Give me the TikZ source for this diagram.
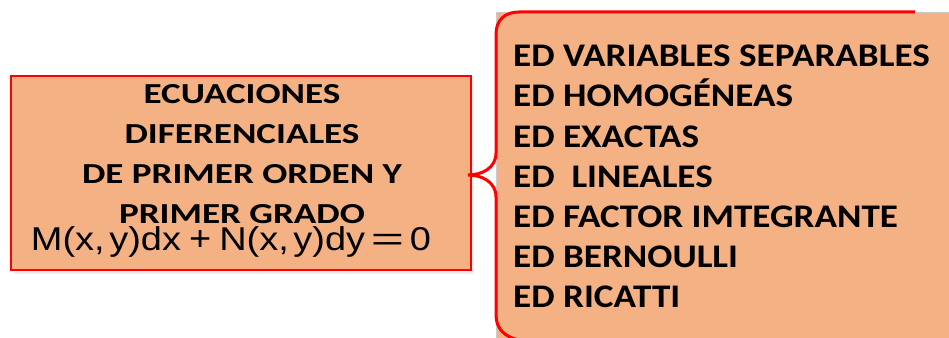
\documentclass[tikz,border=0pt]{standalone}
\usepackage{fontspec}
\setmainfont{Carlito}
\newfontfamily\eqfont{Liberation Sans}
\definecolor{salmon}{HTML}{F4B183}
\definecolor{bred}{HTML}{FF0000}
\newcommand{\eqplus}{\scalebox{1.0}[1.05]{+}}
\newcommand{\eqequal}{\scalebox{1.5}[1.0]{=}}
\begin{document}
\begin{tikzpicture}[x=1pt,y=-1pt,
  lefttxt/.style={anchor=base,inner sep=0pt,xscale=1.28,font=\bfseries\fontsize{29}{29}\selectfont},
  righttxt/.style={anchor=base west,inner sep=0pt,xscale=1.125,font=\bfseries\fontsize{33}{33}\selectfont},
  eqtxt/.style={anchor=base,inner sep=0pt,xscale=1.15,font=\eqfont\fontsize{33}{33}\selectfont},
  leftbox/.style={draw=bred,line width=2pt,fill=salmon,minimum width=460pt,minimum height=194pt,inner sep=0pt},
  bracepath/.style={draw=bred,line width=3pt,line cap=butt}
]
\useasboundingbox (0,0) rectangle (949,337);
\clip (0,0) rectangle (949,337);
\fill[white] (0,0) rectangle (949,337);
% shadow
\fill[gray!25,opacity=0.5] (14,79) rectangle (474,274);
% left box
\node[leftbox] (L) at (241,173) {};
\node[lefttxt] (t1) at (242,103.3) {ECUACIONES};
\node[lefttxt] (t2) at (242,143.3) {DIFERENCIALES};
\node[lefttxt] (t3) at (242,183.3) {DE PRIMER ORDEN Y};
\node[lefttxt] (t4) at (242,223.3) {PRIMER GRADO};
\node[eqtxt] (eq) at (231,250) {M(x,\hspace{4pt}y)dx\hspace{7pt}\eqplus\hspace{7pt}N(x,\hspace{4pt}y)dy\hspace{5pt}\eqequal\hspace{5pt}0};
% right box
\fill[salmon,draw=gray!40,line width=0.8pt] (496,12) rectangle (952,345);
\coordinate (bs) at (915,12);
\coordinate (tip) at (468,175);
\draw[bracepath] (bs) -- (519,12) .. controls (505,12) and (496,20) .. (496,34)
  -- (496,153) .. controls (496,168) and (482,175) .. (tip)
  .. controls (482,175) and (496,182) .. (496,197)
  -- (496,315) .. controls (496,329) and (505,337) .. (519,340);
\node[righttxt] (r1) at (513,66.7) {ED VARIABLES SEPARABLES};
\node[righttxt] (r2) at (513,106.9) {ED HOMOGÉNEAS};
\node[righttxt] (r3) at (513,147.1) {ED EXACTAS};
\node[righttxt] (r4) at (513,187.3) {ED\ \ LINEALES};
\node[righttxt] (r5) at (513,227.5) {ED FACTOR IMTEGRANTE};
\node[righttxt] (r6) at (513,267.7) {ED BERNOULLI};
\node[righttxt] (r7) at (513,307.9) {ED RICATTI};
\end{tikzpicture}
\end{document}
